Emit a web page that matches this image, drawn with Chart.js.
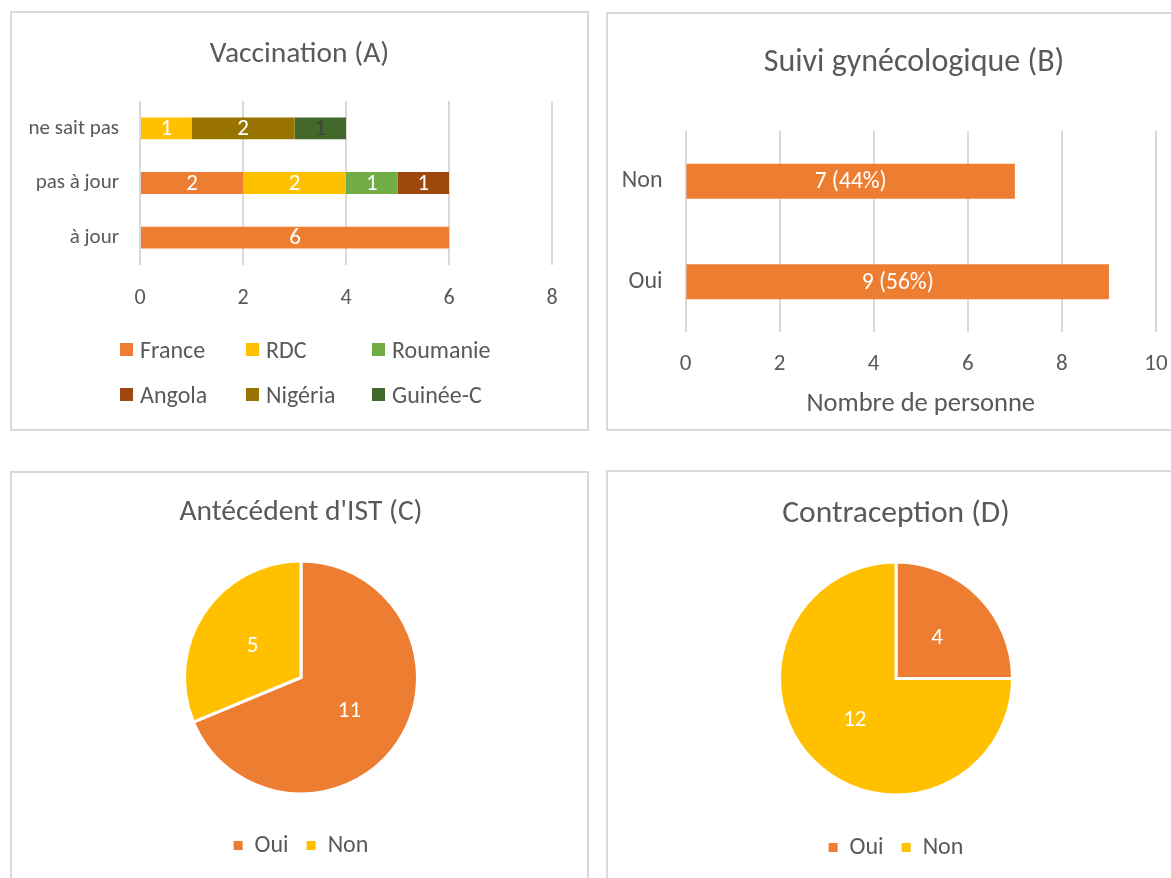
<!DOCTYPE html>
<html><head><meta charset="utf-8">
<script src="https://cdn.jsdelivr.net/npm/chart.js@4.4.1/dist/chart.umd.min.js"></script>
<style>
html,body{margin:0;padding:0;background:#fff;width:1171px;height:878px;overflow:hidden;position:relative;font-family:Carlito,Lato,sans-serif;}
.box{position:absolute;border:2px solid #D9D9D9;box-sizing:border-box;}
canvas{position:absolute;}
.legItem{position:absolute;height:26px;display:flex;align-items:center;color:#595959;font-size:24px;white-space:nowrap;}
.legItem span.sw{display:inline-block;width:13px;height:13px;margin-right:7px;}
</style></head><body>
<div class="box" style="left:10px;top:11px;width:579px;height:420px"></div>
<div class="box" style="left:606px;top:12px;width:620px;height:419px"></div>
<div class="box" style="left:10px;top:471px;width:579px;height:420px"></div>
<div class="box" style="left:606px;top:470px;width:578px;height:420px"></div>
<canvas id="cA" width="575" height="416" style="left:12px;top:13px;width:575px;height:416px"></canvas>
<canvas id="cB" width="610" height="414" style="left:609px;top:15px;width:610px;height:414px"></canvas>
<canvas id="cC" width="575" height="405" style="left:12px;top:473px;width:575px;height:405px"></canvas>
<canvas id="cD" width="574" height="406" style="left:609px;top:472px;width:574px;height:406px"></canvas>
<div id="legA"></div>
<script>
// ---- Data: panel A (Vaccination) ----
const vaccCategories = ['ne sait pas', 'pas à jour', 'à jour'];
const vaccCountries = ['France', 'RDC', 'Roumanie', 'Angola', 'Nigéria', 'Guinée-C'];
const franceValues = [0, 2, 6];
const rdcValues = [1, 2, 0];
const roumanieValues = [0, 1, 0];
const angolaValues = [0, 1, 0];
const nigeriaValues = [2, 0, 0];
const guineeValues = [1, 0, 0];
const vaccTicks = [0, 2, 4, 6, 8];

// ---- Data: panel B (Suivi gynécologique) ----
const suiviCategories = ['Non', 'Oui'];
const suiviValues = [7, 9];
const suiviTicks = [0, 2, 4, 6, 8, 10];

// ---- Data: panel C (Antécédent d'IST) ----
const istLabels = ['Oui', 'Non'];
const istValues = [11, 5];

// ---- Data: panel D (Contraception) ----
const contraLabels = ['Oui', 'Non'];
const contraValues = [4, 12];

// ---- Styles ----
const FONT = 'Carlito, Lato, sans-serif';
const TXT = '#595959';
const GRID = '#D9D9D9';
const cOrange = '#ED7D31', cYellow = '#FFC000', cGreen = '#70AD47',
      cAngola = '#9E480E', cNigeria = '#997300', cGuinee = '#43682B';
const countryColors = [cOrange, cYellow, cGreen, cAngola, cNigeria, cGuinee];
const countryValues = [franceValues, rdcValues, roumanieValues, angolaValues, nigeriaValues, guineeValues];
const labelColors = ['#fff', '#fff', '#fff', '#fff', '#fff', '#404040'];

Chart.defaults.font.family = FONT;
Chart.defaults.color = TXT;

const valueLabels = {
  id: 'valueLabels',
  afterDatasetsDraw(chart, args, opts) {
    if (!opts || !opts.display) return;
    const ctx = chart.ctx;
    ctx.save();
    ctx.font = opts.size + 'px ' + FONT;
    ctx.textAlign = 'center';
    ctx.textBaseline = 'middle';
    const isArc = chart.config.type === 'pie';
    chart.data.datasets.forEach((ds, di) => {
      const meta = chart.getDatasetMeta(di);
      meta.data.forEach((el, i) => {
        const v = ds.data[i];
        if (!v) return;
        const p = isArc ? el.tooltipPosition() : el.getCenterPoint();
        ctx.fillStyle = ds.labelColor || '#fff';
        const txt = opts.format ? opts.format(v, i, ds) : String(v);
        ctx.fillText(txt, p.x, p.y + (opts.dy || 0));
      });
    });
    ctx.restore();
  }
};

// title block: text centred vertically at `center`, chart area starting at `top`
function titleOpts(text, size, center, top) {
  const lh = size * 1.2;
  return { display: true, text, color: TXT, font: { size, weight: 'normal', family: FONT },
           padding: { top: center - lh / 2, bottom: top - center - lh / 2 } };
}
// empty right-hand spacer axis (keeps the title centred on the whole panel)
function spacerAxis(w) {
  return { type: 'linear', position: 'right', display: true, min: 0, max: 1,
           grid: { display: false, drawTicks: false }, border: { display: false },
           ticks: { display: false }, afterFit: s => { s.width = w; } };
}

// ---- Panel A ----
(function () {
  const tickSize = 22, catSize = 21;
  const plotBottom = 252, tickCenter = 284;
  new Chart(document.getElementById('cA'), {
    type: 'bar',
    data: {
      labels: vaccCategories,
      datasets: vaccCountries.map((name, k) => ({
        label: name, data: countryValues[k], backgroundColor: countryColors[k],
        labelColor: labelColors[k], borderWidth: 0,
        barPercentage: 0.4, categoryPercentage: 1
      }))
    },
    options: {
      indexAxis: 'y', responsive: false, animation: false, devicePixelRatio: 1,
      layout: { padding: { left: 0, right: 0, top: 0, bottom: 104 } },
      plugins: {
        legend: { display: false }, tooltip: { enabled: false },
        title: titleOpts('Vaccination (A)', 29.5, 41.5, 88),
        valueLabels: { display: true, size: 23, dy: 1 }
      },
      scales: {
        x: {
          stacked: true, min: 0, max: 8,
          afterBuildTicks: s => { s.ticks = vaccTicks.map(v => ({ value: v })); },
          afterFit: s => { s.height = 60; },
          grid: { color: GRID, lineWidth: 2, drawTicks: false },
          border: { display: false },
          ticks: { padding: tickCenter - plotBottom - tickSize * 0.6 + 1, color: TXT, font: { size: tickSize } }
        },
        y: {
          stacked: true,
          afterFit: s => { s.width = 128; },
          grid: { display: false, drawTicks: false },
          border: { display: false },
          ticks: { padding: 21, color: TXT, font: { size: catSize } }
        },
        spacer: spacerAxis(35)
      }
    },
    plugins: [valueLabels]
  });
  // HTML legend laid out in Excel-like columns
  const leg = document.getElementById('legA');
  const colX = [120, 246, 372], rowY = [349, 394];
  vaccCountries.forEach((name, k) => {
    const d = document.createElement('div');
    d.className = 'legItem';
    d.style.left = colX[k % 3] + 'px';
    d.style.top = (rowY[Math.floor(k / 3)] - 13) + 'px';
    d.innerHTML = '<span class="sw" style="background:' + countryColors[k] + '"></span>' + name;
    leg.appendChild(d);
  });
})();

// ---- Panel B ----
(function () {
  const total = suiviValues.reduce((a, b) => a + b, 0);
  const plotBottom = 317, tickCenter = 349, axisTitleCenter = 389, canvasH = 414;
  const tickSize = 23, axisTitleSize = 26.5;
  const axisH = axisTitleCenter - plotBottom + axisTitleSize * 0.6;
  new Chart(document.getElementById('cB'), {
    type: 'bar',
    data: {
      labels: suiviCategories,
      datasets: [{ label: 'Nombre de personne', data: suiviValues, backgroundColor: cOrange,
                   borderWidth: 0, barPercentage: 0.35, categoryPercentage: 1, labelColor: '#fff' }]
    },
    options: {
      indexAxis: 'y', responsive: false, animation: false, devicePixelRatio: 1,
      layout: { padding: { left: 0, right: 0, top: 0, bottom: canvasH - plotBottom - axisH } },
      plugins: {
        legend: { display: false }, tooltip: { enabled: false },
        title: titleOpts('Suivi gynécologique (B)', 32, 47.5, 116),
        valueLabels: { display: true, size: 23.5, dy: 1,
          format: v => v + ' (' + Math.round(v / total * 100) + '%)' }
      },
      scales: {
        x: {
          min: 0, max: 10,
          afterBuildTicks: s => { s.ticks = suiviTicks.map(v => ({ value: v })); },
          afterFit: s => { s.height = axisH; },
          grid: { color: GRID, lineWidth: 2, drawTicks: false },
          border: { display: false },
          ticks: { padding: tickCenter - plotBottom - tickSize * 0.6, color: TXT, font: { size: tickSize } },
          title: { display: true, text: 'Nombre de personne', color: TXT,
                   font: { size: axisTitleSize }, padding: { top: 0, bottom: 0 } }
        },
        y: {
          afterFit: s => { s.width = 76.5; },
          grid: { display: false, drawTicks: false },
          border: { display: false },
          ticks: { padding: 23, color: TXT, font: { size: 24 } }
        },
        spacer: spacerAxis(63)
      }
    },
    plugins: [valueLabels]
  });
})();

// ---- Pie helper ----
function pieChart(id, title, tSize, tCenter, labels, values, padL, canvasH, pieCenterY, legendCenterY) {
  const legSize = 24, legPad = 18;
  const legTop = legendCenterY - legPad - legSize / 2;
  const legBottom = legTop + legSize + legPad + 10;
  const chartTop = 2 * pieCenterY - legTop;
  return new Chart(document.getElementById(id), {
    type: 'pie',
    data: {
      labels,
      datasets: [{ data: values, backgroundColor: [cOrange, cYellow], borderColor: '#fff',
                   borderWidth: 3, borderJoinStyle: 'miter', radius: 116.5, labelColor: '#fff' }]
    },
    options: {
      responsive: false, animation: false, devicePixelRatio: 1,
      layout: { padding: { left: padL, right: 0, top: 0, bottom: canvasH - legBottom } },
      plugins: {
        tooltip: { enabled: false },
        title: titleOpts(title, tSize, tCenter, chartTop),
        legend: {
          position: 'bottom',
          labels: {
            color: TXT, font: { size: legSize }, boxWidth: 9, boxHeight: 9, padding: legPad,
            generateLabels: ch => Chart.overrides.pie.plugins.legend.labels.generateLabels(ch)
              .map(l => Object.assign(l, { lineWidth: 0, strokeStyle: 'rgba(0,0,0,0)' }))
          }
        },
        valueLabels: { display: true, size: 23, dy: 1 }
      }
    },
    plugins: [valueLabels]
  });
}
pieChart('cC', "Antécédent d'IST (C)", 29.5, 39.5, istLabels, istValues, 3, 405, 204.5, 372.5);
pieChart('cD', 'Contraception (D)', 31.5, 42, contraLabels, contraValues, 0, 406, 206.5, 375.5);
</script>
</body></html>
